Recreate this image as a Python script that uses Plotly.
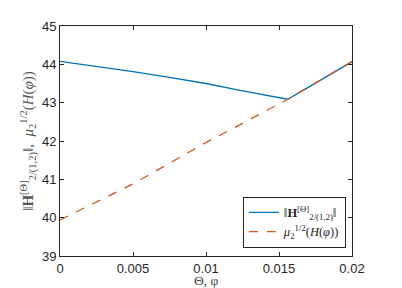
import plotly.graph_objects as go

theta = [0, 0.0025, 0.005, 0.0075, 0.01, 0.0125, 0.0156, 0.0175, 0.02]
norm_H = [44.08, 43.95, 43.81, 43.66, 43.50, 43.31, 43.09, 43.51, 44.07]
mu_half = [39.94, 40.41, 40.88, 41.42, 41.96, 42.46, 43.09, 43.51, 44.07]

x_ticks = [0, 0.005, 0.01, 0.015, 0.02]
x_ticktext = ["0", "0.005", "0.01", "0.015", "0.02"]
y_ticks = [39, 40, 41, 42, 43, 44, 45]

fig = go.Figure()
fig.add_trace(go.Scatter(
    x=theta, y=norm_H, mode="lines",
    line=dict(color="#0072BD", width=1.3),
    name="‖<b>H</b><sup>[Θ]</sup><sub>2/(1,2)</sub>‖",
))
fig.add_trace(go.Scatter(
    x=theta, y=mu_half, mode="lines",
    line=dict(color="#D95319", width=1.3, dash="dash"),
    name="<i>μ</i><sub>2</sub><sup>1/2</sup>(<i>H</i>(<i>φ</i>))",
))

axis_common = dict(
    showline=True, linecolor="#262626", linewidth=1, mirror="ticks",
    ticks="inside", ticklen=4, tickcolor="#262626", showgrid=False, zeroline=False,
    automargin=False,
    tickfont=dict(family="Liberation Sans, Arial, sans-serif", size=13, color="#262626"),
)

fig.update_layout(
    width=394, height=280,
    margin=dict(l=52, r=50, t=18, b=32),
    paper_bgcolor="white", plot_bgcolor="white",
    showlegend=True,
    legend=dict(
        x=0.979, y=0.036, xanchor="right", yanchor="bottom",
        bgcolor="white", bordercolor="#262626", borderwidth=1,
        font=dict(family="Liberation Serif, Times New Roman, serif", size=12.5, color="#262626"),
        tracegroupgap=0, itemwidth=30,
    ),
    xaxis=dict(
        range=[0, 0.02], tickvals=x_ticks, ticktext=x_ticktext,
        **axis_common,
    ),
    yaxis=dict(
        range=[39, 45], tickvals=y_ticks,
        title=dict(text="‖<b>H</b><sup>[Θ]</sup><sub>2/(1,2)</sub>‖,  <i>μ</i><sub>2</sub><sup>1/2</sup>(<i>H</i>(<i>φ</i>))",
                   standoff=4,
                   font=dict(family="Liberation Serif, Times New Roman, serif", size=15, color="#555")),
        **axis_common,
    ),
    annotations=[dict(
        text="Θ, φ", xref="paper", yref="paper", x=0.5, y=0,
        xanchor="center", yanchor="top", yshift=-15, showarrow=False,
        font=dict(family="Liberation Serif, Times New Roman, serif", size=13.5, color="#444"),
    )],
)

fig.write_html("out.html")
